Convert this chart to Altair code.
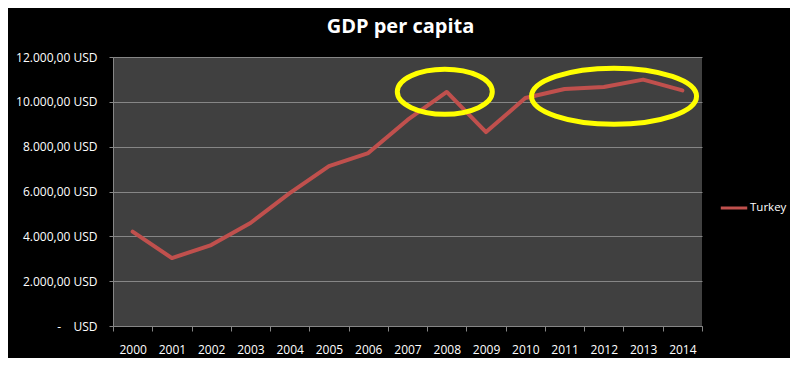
import altair as alt
import pandas as pd

# ---- data ----
years = ["2000", "2001", "2002", "2003", "2004", "2005", "2006", "2007",
         "2008", "2009", "2010", "2011", "2012", "2013", "2014"]
gdp_usd = [4210, 3030, 3610, 4595, 5930, 7135, 7715, 9190,
           10440, 8650, 10170, 10570, 10660, 10990, 10510]
series_name = "Turkey"
y_ticks = [0, 2000, 4000, 6000, 8000, 10000, 12000]

# highlighted regions (yellow ellipses)
highlight_years = ["2008", "2012"]
highlight_values = [10450, 10250]
highlight_ids = ["first", "second"]

df = pd.DataFrame({"year": years, "gdp": gdp_usd,
                   "country": [series_name] * len(years)})
hl = pd.DataFrame({"year": highlight_years, "gdp": highlight_values,
                   "id": highlight_ids})

FONT = "Open Sans"
GRID = "#868686"
LINE = "#C0504D"
YELLOW = "#FFFF00"
NB = "\u00a0"

x_scale = alt.Scale(type="band", domain=years, paddingInner=0, paddingOuter=0)
x_enc = alt.X(
    "year:O",
    scale=x_scale,
    axis=alt.Axis(
        title=None, labelAngle=0, tickBand="extent", grid=False,
        domainColor=GRID, tickColor=GRID, tickSize=5,
        labelColor="white", labelFont=FONT, labelFontSize=12,
        labelPadding=13,
    ),
)
y_scale = alt.Scale(domain=[0, 12000], nice=False, zero=True)
y_enc = alt.Y(
    "gdp:Q",
    scale=y_scale,
    axis=alt.Axis(
        title=None, values=y_ticks, grid=True, gridColor=GRID, gridWidth=1,
        domainColor=GRID, tickColor=GRID, tickSize=4,
        labelColor="white", labelFont=FONT, labelFontSize=12, labelPadding=12,
        labelExpr=(
            "datum.value == 0 ? '-" + NB * 4 + "USD' : "
            "replace(replace(replace(format(datum.value, ',.2f'), ',', '_'), '.', ','), '_', '.') + ' USD'"
        ),
    ),
)

line = alt.Chart(df).mark_line(
    strokeWidth=4, strokeJoin="round", strokeCap="round"
).encode(
    x=x_enc,
    y=y_enc,
    color=alt.Color(
        "country:N",
        scale=alt.Scale(domain=[series_name], range=[LINE]),
        legend=alt.Legend(
            title=None, orient="none", legendX=606, legendY=136,
            symbolType="stroke", symbolSize=700, symbolStrokeWidth=3,
            symbolStrokeColor=LINE,
            labelColor="white", labelFont=FONT, labelFontSize=11.5,
            labelOffset=1,
        ),
    ),
)


def ellipse_path(a):
    k = 0.5523
    return (f"M -1 0 C -1 {-k*a:.4f} {-k:.4f} {-a:.4f} 0 {-a:.4f} "
            f"C {k:.4f} {-a:.4f} 1 {-k*a:.4f} 1 0 "
            f"C 1 {k*a:.4f} {k:.4f} {a:.4f} 0 {a:.4f} "
            f"C {-k:.4f} {a:.4f} -1 {k*a:.4f} -1 0 Z")


def hl_layer(which, band_pos, aspect, size):
    return alt.Chart(hl).transform_filter(alt.datum.id == which).mark_point(
        shape=ellipse_path(aspect), size=size, filled=False,
        stroke=YELLOW, strokeWidth=5, opacity=1,
    ).encode(
        x=alt.X("year:O", scale=x_scale, bandPosition=band_pos),
        y=alt.Y("gdp:Q", scale=y_scale),
    )


ell1 = hl_layer("first", 0.45, 0.4737, 9025)
ell2 = hl_layer("second", 0.76, 0.34, 27225)

chart = alt.layer(line, ell1, ell2).properties(
    width=589,
    height=269,
    autosize=alt.AutoSizeParams(type="none"),
    padding={"left": 105, "top": 49, "right": 88, "bottom": 32},
    background="#000000",
    title=alt.TitleParams(
        "GDP per capita", font=FONT, fontSize=20, fontWeight="bold",
        color="white", anchor="middle", frame="group", dx=-7, offset=14,
    ),
).configure_view(
    fill="#404040", stroke=None
)

chart.save("out.html", embed_options={"renderer": "svg", "actions": False})
